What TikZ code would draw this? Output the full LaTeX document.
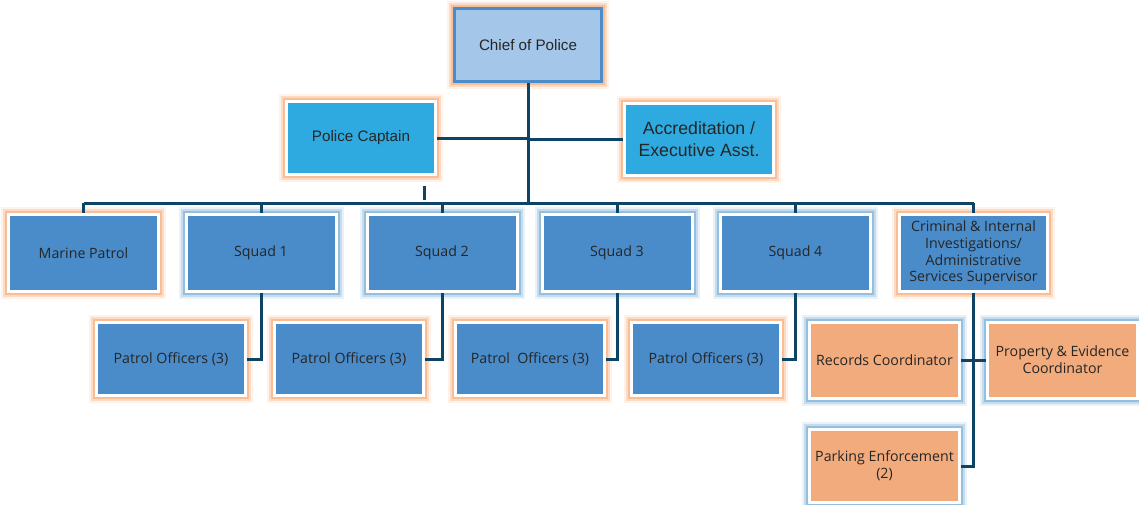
\documentclass[tikz,border=0pt]{standalone}
\usepackage{fontspec}
\setmainfont{Open Sans}
\newfontfamily\arialf{Liberation Sans}
\definecolor{boxblue}{HTML}{4A8BC9}
\definecolor{chieffill}{HTML}{A4C6E8}
\definecolor{capfill}{HTML}{2FAAE0}
\definecolor{orfill}{HTML}{F2AB7C}
\definecolor{glowor}{HTML}{F7A772}
\definecolor{glowbl}{HTML}{6FA8D2}
\definecolor{linec}{HTML}{0D4466}
\definecolor{txt}{HTML}{262626}
\tikzset{
  base/.style={rectangle, inner sep=2pt, align=center, text=txt, font=\fontsize{14.2}{16.8}\selectfont, line width=3pt},
  glowo/.style={preaction={draw=glowor, line width=15pt, opacity=0.15, rounded corners=5pt},
                preaction={draw=glowor, line width=11pt, opacity=0.3, rounded corners=3pt},
                preaction={draw=glowor, line width=7pt, opacity=0.55, rounded corners=1pt}},
  glowb/.style={preaction={draw=glowbl, line width=15pt, opacity=0.15, rounded corners=5pt},
                preaction={draw=glowbl, line width=11pt, opacity=0.3, rounded corners=3pt},
                preaction={draw=glowbl, line width=7pt, opacity=0.55, rounded corners=1pt}},
  bluebox/.style={base, fill=boxblue, draw=white, minimum width=150pt, minimum height=77pt},
  patrolbox/.style={base, fill=boxblue, draw=white, minimum width=149pt, minimum height=73pt, glowo},
  orbox/.style={base, fill=orfill, draw=white, minimum width=150pt, minimum height=76pt, glowb},
  conn/.style={draw=linec, line width=3pt}
}
\begin{document}
\begin{tikzpicture}[x=1pt,y=-1pt]
\useasboundingbox (0,0) rectangle (1139,504);
% top
\node[base, fill=chieffill, draw=boxblue, minimum width=147pt, minimum height=73pt, glowo, font=\arialf\fontsize{15.2}{17}\selectfont] (chief) at (528,45) {Chief of Police};
\node[base, fill=capfill, draw=white, minimum width=149pt, minimum height=73pt, glowo, font=\arialf\fontsize{15.2}{17}\selectfont] (cap) at (361,138) {Police Captain};
\node[base, fill=capfill, draw=white, minimum width=149pt, minimum height=72pt, glowo, font=\arialf\fontsize{17.7}{22}\selectfont] (acc) at (699,139.5) {Accreditation /\\Executive Asst.};
% second row
\node[bluebox, glowo] (marine) at (83.5,253) {Marine Patrol};
\node[bluebox, glowb] (sq1) at (261,253) {Squad 1};
\node[bluebox, glowb] (sq2) at (442,253) {Squad 2};
\node[bluebox, glowb] (sq3) at (617,253) {Squad 3};
\node[bluebox, glowb] (sq4) at (795.5,253) {Squad 4};
\node[bluebox, glowo, minimum width=148pt] (crim) at (973.5,253) {Criminal \& Internal\\Investigations/\\Administrative\\Services Supervisor};
% third row
\node[patrolbox] (po1) at (171,359) {Patrol Officers (3)};
\node[patrolbox] (po2) at (349,359) {Patrol Officers (3)};
\node[patrolbox] (po3) at (530,359) {Patrol\ \ Officers (3)};
\node[patrolbox] (po4) at (706,359) {Patrol Officers (3)};
\node[orbox] (rec) at (884.5,360) {Records Coordinator};
\node[orbox] (prop) at (1062.5,360) {Property \& Evidence\\Coordinator};
\node[orbox, minimum height=73pt] (park) at (884.5,466) {Parking Enforcement\\(2)};
% coordinates
\coordinate (busy) at (0,203);
\coordinate (stubA) at (424,186);
\coordinate (stubB) at (424,200);
% connectors
\draw[conn] (chief.south) -- (chief.south |- busy);
\draw[conn] (cap.east) -- (cap.east -| chief.south);
\draw[conn] (acc.west) -- (acc.west -| chief.south);
\draw[conn] (stubA) -- (stubB);
\draw[conn] (marine.north |- busy) -- (crim.north |- busy);
\foreach \n in {marine,sq1,sq2,sq3,sq4,crim}{
  \draw[conn] (\n.north) -- (\n.north |- busy);
}
\draw[conn] (sq1.south) |- (po1.east);
\draw[conn] (sq2.south) |- (po2.east);
\draw[conn] (sq3.south) |- (po3.east);
\draw[conn] (sq4.south) |- (po4.east);
\draw[conn] (crim.south) |- (park.east);
\draw[conn] (rec.east) -- (prop.west);
\end{tikzpicture}
\end{document}
